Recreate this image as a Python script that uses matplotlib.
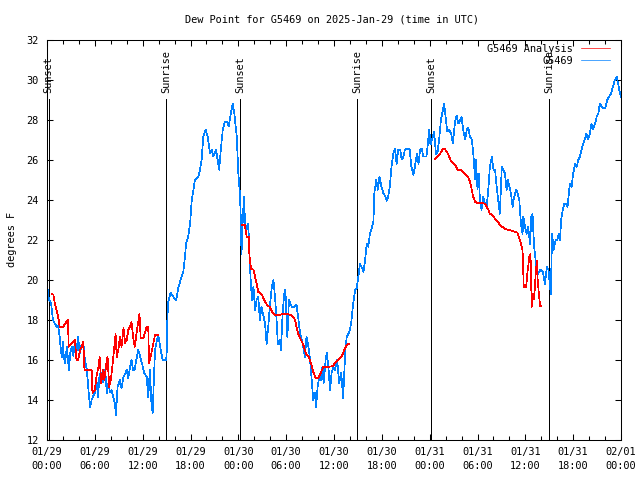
import numpy as np
import pandas as pd
import matplotlib
matplotlib.use("Agg")
import matplotlib.pyplot as plt

# =========================
# DATA (hours after 2025-01-29 00:00 UTC, degrees F)
# =========================

START = pd.Timestamp("2025-01-29 00:00")

obs_hours = [
    0.0, 0.1, 0.25, 0.5, 0.75, 1.0, 1.2, 1.4, 1.6, 1.7, 1.85, 2.0, 2.1, 2.25, 2.5, 2.75, 2.9,
    3.1, 3.3, 3.5, 3.7, 3.9, 4.1, 4.3, 4.55, 4.75, 5.0, 5.2, 5.4, 5.6, 5.8, 6.0, 6.2, 6.4,
    6.6, 6.85, 7.0, 7.2, 7.35, 7.5, 7.7, 7.9, 8.1, 8.3, 8.5, 8.65, 8.85, 9.0, 9.15, 9.35,
    9.6, 9.8, 10.0, 10.2, 10.4, 10.6, 10.8, 11.0, 11.2, 11.45, 11.7, 11.9, 12.2, 12.5, 12.7,
    12.9, 13.1, 13.25, 13.4, 13.55, 13.75, 13.95, 14.2, 14.5, 14.95, 15.05, 15.1, 15.2, 15.5,
    15.85, 16.2, 16.5, 16.7, 16.9, 17.1, 17.3, 17.45, 17.7, 17.95, 18.15, 18.35, 18.55, 18.8,
    19.0, 19.2, 19.4, 19.6, 19.9, 20.15, 20.45, 20.65, 20.85, 21.2, 21.4, 21.6, 21.8, 22.05,
    22.3, 22.6, 22.8, 23.05, 23.3, 23.5, 23.8, 24.0, 24.2, 24.3, 24.4, 24.5, 24.7, 24.85,
    25.05, 25.25, 25.4, 25.55, 25.7, 25.9, 26.1, 26.3, 26.5, 26.7, 26.9, 27.1, 27.35, 27.55,
    27.75, 27.95, 28.2, 28.4, 28.6, 28.8, 28.95, 29.2, 29.35, 29.55, 29.75, 29.9, 30.15,
    30.35, 30.7, 31.0, 31.3, 31.5, 31.75, 31.95, 32.15, 32.35, 32.55, 32.8, 33.0, 33.2, 33.4,
    33.6, 33.75, 33.95, 34.15, 34.35, 34.55, 34.7, 34.95, 35.1, 35.3, 35.5, 35.7, 35.9, 36.1,
    36.4, 36.65, 36.9, 37.15, 37.4, 37.6, 37.8, 38.0, 38.2, 38.4, 38.65, 38.85, 39.05, 39.25,
    39.5, 39.7, 39.9, 40.1, 40.3, 40.5, 40.7, 40.95, 41.05, 41.3, 41.5, 41.7, 41.95, 42.2,
    42.4, 42.6, 42.8, 43.0, 43.25, 43.45, 43.65, 43.85, 44.05, 44.3, 44.5, 44.7, 44.9, 45.2,
    45.5, 45.7, 45.95, 46.15, 46.4, 46.6, 46.8, 47.0, 47.2, 47.6, 47.85, 47.95, 48.1, 48.3,
    48.55, 48.8, 49.0, 49.2, 49.4, 49.65, 49.8, 50.0, 50.2, 50.45, 50.7, 50.9, 51.2, 51.4,
    51.6, 51.8, 52.0, 52.2, 52.45, 52.65, 52.85, 53.05, 53.3, 53.5, 53.7, 53.8, 54.0, 54.15,
    54.3, 54.5, 54.7, 54.95, 55.15, 55.35, 55.55, 55.8, 56.0, 56.2, 56.4, 56.6, 56.8, 57.05,
    57.25, 57.45, 57.65, 57.8, 58.0, 58.2, 58.4, 58.6, 58.85, 59.05, 59.25, 59.45, 59.55,
    59.65, 59.75, 59.95, 60.15, 60.35, 60.6, 60.75, 60.9, 61.1, 61.35, 61.6, 61.9, 62.2,
    62.45, 62.7, 62.9, 63.1, 63.2, 63.35, 63.55, 63.8, 64.0, 64.2, 64.35, 64.5, 64.65, 64.9,
    65.1, 65.3, 65.45, 65.6, 65.8, 66.0, 66.25, 66.45, 66.65, 66.85, 67.05, 67.25, 67.45,
    67.65, 67.85, 68.1, 68.3, 68.5, 68.75, 68.95, 69.15, 69.35, 69.55, 69.8, 70.0, 70.3,
    70.5, 70.75, 71.0, 71.2, 71.45, 71.65, 71.8, 72.0,
]
obs_dewpt = [
    20.0, 19.4, 19.0, 18.85, 18.0, 17.8, 17.65, 17.7, 17.15, 16.65, 16.15, 16.9, 16.2, 15.85,
    16.65, 15.5, 16.3, 16.65, 16.2, 16.9, 16.4, 17.15, 16.3, 16.7, 16.85, 16.0, 15.5, 14.5,
    13.65, 14.0, 14.2, 14.35, 15.0, 14.15, 15.3, 15.35, 14.9, 15.5, 15.2, 14.35, 14.85, 14.4,
    14.5, 14.15, 13.85, 13.25, 14.65, 14.8, 15.0, 14.6, 15.15, 15.3, 15.5, 15.1, 15.6, 16.0,
    15.5, 15.5, 16.0, 16.5, 16.15, 15.85, 15.35, 15.15, 14.15, 15.5, 13.85, 13.35, 15.0,
    16.5, 16.9, 17.25, 16.65, 16.0, 16.0, 16.65, 18.1, 18.9, 19.35, 19.15, 19.0, 19.65,
    19.9, 20.2, 20.4, 21.15, 21.8, 22.15, 22.8, 23.95, 24.45, 25.0, 25.1, 25.15, 25.5, 26.0,
    27.15, 27.5, 27.15, 26.3, 26.5, 26.15, 26.5, 26.0, 25.5, 26.5, 27.5, 27.9, 27.9, 27.65,
    28.3, 28.8, 28.3, 27.15, 25.3, 24.3, 23.15, 21.3, 22.5, 24.15, 22.8, 22.5, 22.8, 21.15,
    20.0, 19.0, 19.65, 18.5, 19.0, 19.15, 18.0, 18.65, 18.3, 17.8, 16.8, 17.65, 18.65, 19.65,
    20.0, 19.15, 18.0, 16.8, 17.0, 16.5, 18.3, 19.3, 19.5, 17.15, 19.0, 18.65, 18.65, 18.75,
    18.15, 17.3, 17.0, 16.65, 16.15, 17.15, 16.65, 16.0, 15.0, 14.0, 14.35, 13.65, 14.65,
    15.15, 15.0, 15.65, 14.85, 16.0, 16.35, 15.65, 14.5, 15.35, 15.65, 15.5, 16.0, 14.85,
    15.35, 14.1, 16.35, 17.15, 17.3, 17.5, 18.0, 18.8, 19.5, 19.6, 20.15, 20.8, 20.6, 20.4,
    21.0, 21.8, 21.65, 22.3, 22.5, 22.95, 24.3, 25.0, 24.5, 25.15, 24.65, 24.3, 24.2, 23.95,
    24.15, 24.65, 25.8, 26.3, 26.55, 25.8, 26.5, 26.5, 26.0, 26.15, 26.5, 26.55, 26.5, 25.65,
    25.25, 25.65, 26.3, 25.8, 26.5, 26.55, 26.15, 26.15, 27.15, 27.5, 26.75, 27.0, 27.4,
    26.25, 26.4, 27.05, 27.95, 28.45, 28.8, 28.15, 27.4, 27.5, 27.3, 26.8, 27.95, 28.2, 27.8,
    27.95, 28.15, 27.5, 27.0, 27.5, 27.6, 27.15, 27.0, 26.15, 25.0, 26.0, 24.5, 25.3, 24.0,
    23.5, 24.15, 23.8, 23.65, 24.5, 25.65, 26.15, 25.5, 25.5, 24.65, 23.95, 23.3, 25.65,
    25.5, 25.3, 24.5, 25.0, 24.65, 24.3, 23.65, 24.15, 24.5, 24.3, 23.95, 22.8, 22.5, 22.3,
    23.15, 22.65, 22.3, 22.65, 21.8, 23.15, 23.3, 21.65, 20.8, 20.3, 20.5, 20.4, 19.8, 20.65,
    20.5, 19.65, 19.3, 22.3, 21.5, 22.0, 22.0, 22.3, 22.0, 23.0, 23.4, 23.8, 23.8, 23.65,
    24.3, 24.8, 24.65, 25.3, 25.8, 25.65, 26.0, 26.15, 26.5, 26.8, 27.0, 27.3, 27.0, 27.3,
    27.8, 27.5, 27.8, 28.15, 28.3, 28.8, 28.65, 28.55, 28.55, 29.0, 29.15, 29.3, 29.65,
    29.95, 30.15, 29.8, 29.45, 29.1,
]

# analysis series has gaps (NaN breaks the line)
ana_hours = [
    0.6, 0.8, 1.0, 1.2, 1.4, 1.6, 2.05, 2.25, 2.65, 2.7, 3.1, 3.5, 3.7, 3.9, 4.15, 4.35, 4.55,
    4.7, 5.6, 5.7, 6.0, 6.2, 6.45, 6.6, 6.8, 7.0, 7.2, 7.5, 7.6, 7.8, 8.0, 8.25, 8.45, 8.6,
    8.75, 8.95, 9.15, 9.35, 9.6, 9.8, 10.0, 10.2, 10.4, 10.6, 10.8, 11.0, 11.35, 11.6, 11.75,
    12.1, 12.5, 12.7, 12.8, 13.0, 13.25, 13.55, 13.95,
    14.0,
    24.4, 24.8, 25.05, 25.3, 25.4, 25.6, 25.9, 26.1, 26.3, 26.5, 26.95, 27.35, 27.7, 27.95,
    28.25, 28.6, 29.2, 29.65, 30.05, 30.5, 30.9, 31.1, 31.3, 31.5, 31.8, 32.15, 32.35, 32.55,
    32.85, 33.1, 33.4, 33.7, 34.05, 34.35, 34.65, 35.3, 35.9, 36.1, 36.55, 36.95, 37.15, 37.4,
    37.7, 37.9,
    38.0,
    48.67, 49.0, 49.3, 49.6, 49.85, 50.15, 50.45, 50.7, 50.95, 51.25, 51.5, 51.95, 52.2, 52.5,
    52.85, 53.05, 53.25, 53.45, 53.7, 53.9, 54.5, 54.95, 55.15, 55.35, 55.55, 55.8, 56.2,
    56.55, 56.8, 57.1, 57.45, 57.85, 58.3, 58.7, 59.0, 59.25, 59.45, 59.65, 59.8, 60.1, 60.25,
    60.5, 60.65, 60.8, 60.95, 61.1, 61.3, 61.45, 61.55, 61.7, 61.85, 61.95,
]
ana_dewpt = [
    19.3, 19.25, 18.8, 18.5, 18.15, 17.65, 17.65, 17.8, 18.0, 16.65, 16.85, 17.0, 16.0, 16.0,
    16.5, 16.65, 16.9, 15.5, 15.5, 14.35, 14.5, 15.15, 15.65, 16.15, 14.85, 15.5, 15.0, 16.0,
    16.15, 14.65, 15.0, 15.85, 16.65, 17.3, 16.15, 16.5, 17.15, 16.65, 17.6, 16.85, 17.0, 17.5,
    17.65, 17.9, 17.15, 16.65, 17.65, 18.3, 17.1, 17.1, 17.65, 17.65, 15.85, 16.15, 16.65,
    17.25, 17.25,
    np.nan,
    22.75, 22.75, 22.15, 22.15, 21.15, 20.55, 20.5, 20.15, 19.8, 19.4, 19.25, 18.9, 18.7, 18.65,
    18.4, 18.25, 18.25, 18.3, 18.3, 18.25, 18.15, 18.0, 17.65, 17.3, 17.05, 16.75, 16.5, 16.25,
    16.15, 15.85, 15.4, 15.1, 15.1, 15.35, 15.65, 15.65, 15.7, 15.85, 16.0, 16.15, 16.35, 16.6,
    16.8, 16.8,
    np.nan,
    26.05, 26.15, 26.3, 26.5, 26.55, 26.4, 26.15, 25.9, 25.8, 25.7, 25.5, 25.5, 25.35, 25.25,
    25.1, 24.9, 24.55, 24.15, 23.9, 23.85, 23.85, 23.8, 23.65, 23.5, 23.3, 23.25, 23.05, 22.9,
    22.75, 22.65, 22.55, 22.5, 22.45, 22.4, 22.35, 22.05, 21.8, 21.5, 19.65, 19.65, 20.3,
    21.15, 21.3, 18.65, 19.3, 19.05, 20.3, 20.95, 20.0, 19.3, 18.7, 18.7,
]

sun_labels = ["Sunset", "Sunrise", "Sunset", "Sunrise", "Sunset", "Sunrise"]
sun_hours = [0.2, 14.97, 24.2, 38.9, 48.2, 63.0]

STATION = "G5469"

# =========================
# PLOT
# =========================

FONT = "DejaVu Sans Mono"
FS = 7.4
BLUE = "#0080ff"
RED = "#ff0000"
LW = 0.5

plt.rcParams["font.family"] = FONT
plt.rcParams["font.size"] = FS

obs_t = START + pd.to_timedelta(obs_hours, unit="h")
ana_t = START + pd.to_timedelta(ana_hours, unit="h")
sun_t = START + pd.to_timedelta(sun_hours, unit="h")

fig = plt.figure(figsize=(6.4, 4.8), dpi=100)
ax = fig.add_axes([47 / 640, 40 / 480, 574 / 640, 400.5 / 480])

# sunrise / sunset markers
for t, lab in zip(sun_t, sun_labels):
    ax.plot([t, t], [12, 29.05], color="black", lw=LW, antialiased=False, zorder=1)
    ax.text(t, 29.35, lab, rotation=90, ha="center", va="bottom", fontsize=FS)

blue_line, = ax.plot(obs_t, obs_dewpt, color=BLUE, lw=LW, antialiased=False, zorder=2,
                     label=STATION)
red_line, = ax.plot(ana_t, ana_dewpt, color=RED, lw=LW, antialiased=False, zorder=3,
                    label=f"{STATION} Analysis")

ax.set_xlim(START, START + pd.Timedelta(hours=72))
ax.set_ylim(12, 32)

major = pd.date_range(START, periods=13, freq="6h")
minor = pd.date_range(START, periods=37, freq="2h")
ax.set_xticks(major)
ax.set_xticklabels([t.strftime("%m/%d\n%H:%M") for t in major], linespacing=1.5)
ax.set_xticks(minor, minor=True)
ax.set_yticks(np.arange(12, 33, 2))

ax.tick_params(which="both", direction="in", top=True, right=True, width=0.75, colors="black")
ax.tick_params(axis="x", which="major", length=4, pad=5)
ax.tick_params(axis="x", which="minor", length=3)
ax.tick_params(axis="y", length=4, pad=6)
for s in ax.spines.values():
    s.set_linewidth(0.75)

ax.set_ylabel("degrees F")
ax.yaxis.set_label_coords(-0.052, 0.5)

fig.text(332 / 640, 1 - 19 / 480, f"Dew Point for {STATION} on 2025-Jan-29 (time in UTC)",
         ha="center", va="center")

ax.legend([red_line, blue_line], [f"{STATION} Analysis", STATION], loc="upper right",
          bbox_to_anchor=(0.981, 0.99), frameon=False, markerfirst=False,
          handlelength=2.8, handletextpad=0.8, borderpad=0, borderaxespad=0,
          labelspacing=0.2)

fig.savefig("out.png", dpi=100)
